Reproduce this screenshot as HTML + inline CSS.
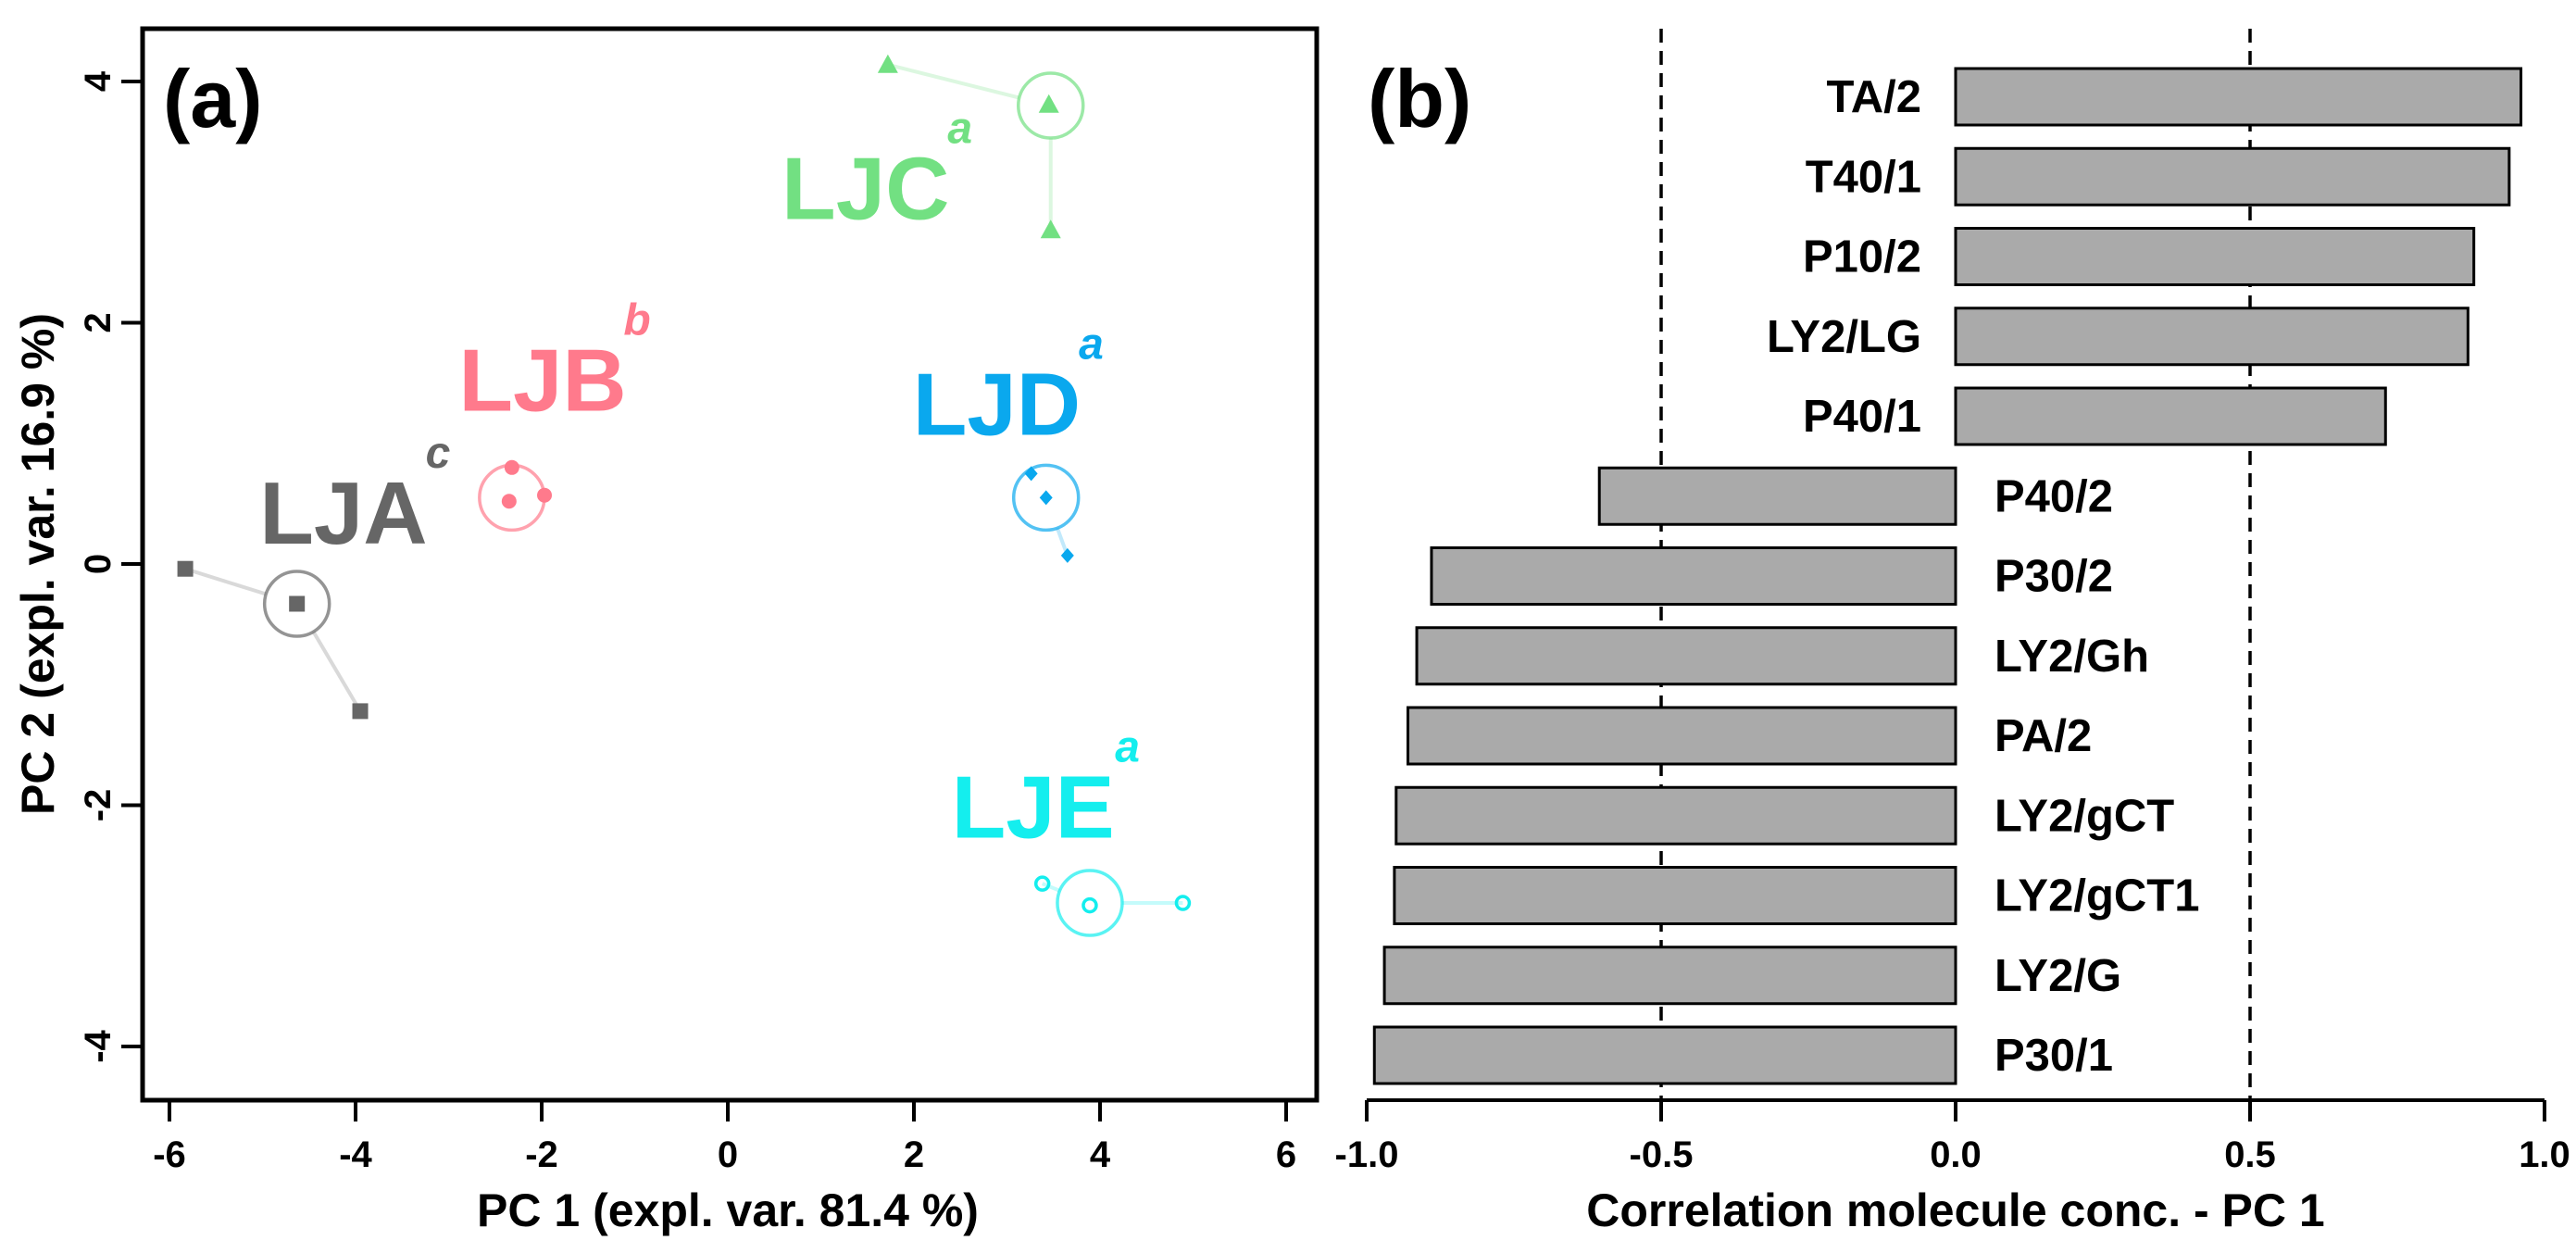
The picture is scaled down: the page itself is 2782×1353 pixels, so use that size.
<!DOCTYPE html>
<html><head><meta charset="utf-8"><style>
html,body{margin:0;padding:0;background:#fff}
svg{display:block;font-family:"Liberation Sans",Arial,sans-serif;font-weight:bold}
</style></head><body>
<svg id="fig" width="2782" height="1353" viewBox="0 0 2782 1353" xmlns="http://www.w3.org/2000/svg">
<g id="pa"></g>
<g id="pb"></g>
</svg>
<script>
// ---- Panel (a) data ----
const groups = ['LJA','LJB','LJC','LJD','LJE'];
const groupColors = ['#666666','#ff7a8c','#72e082','#0aa8ee','#14eeee'];
const groupSuper = ['c','b','a','a','a'];
const centX = [-4.63,-2.32,3.47,3.42,3.89];
const centY = [-0.33,0.55,3.80,0.55,-2.81];
const ptsX = [[-5.83,-3.95],[-2.32,-2.35,-1.97],[1.72,3.45,3.47],[3.26,3.42,3.65],[3.38,3.89,4.89]];
const ptsY = [[-0.04,-1.22],[0.80,0.52,0.57],[4.14,3.81,2.77],[0.75,0.55,0.07],[-2.65,-2.83,-2.81]];
const labelX = [-4.13,-1.99,1.48,2.89,3.28];
const labelY = [0.17,1.27,2.86,1.07,-2.27];
const xTicksA = [-6,-4,-2,0,2,4,6];
const yTicksA = [-4,-2,0,2,4];
// ---- Panel (b) data ----
const molecules = ['TA/2','T40/1','P10/2','LY2/LG','P40/1','P40/2','P30/2','LY2/Gh','PA/2','LY2/gCT','LY2/gCT1','LY2/G','P30/1'];
const corrValues = [0.96,0.94,0.88,0.87,0.73,-0.605,-0.89,-0.915,-0.93,-0.95,-0.953,-0.97,-0.987];
const xTicksB = [-1.0,-0.5,0.0,0.5,1.0];
const refLines = [-0.5,0.5];

const NS='http://www.w3.org/2000/svg';
function mk(parent,tag,attrs,text){const e=document.createElementNS(NS,tag);for(const k in attrs)e.setAttribute(k,attrs[k]);if(text!==undefined)e.textContent=text;parent.appendChild(e);return e;}

const ax=v=>786+v*100.5, ay=v=>609-v*130.25;
const pa=document.getElementById('pa');
let e;
e=mk(pa,'rect',{x:154,y:31,width:1268,height:1157,fill:'none',stroke:'#000','stroke-width':5});


xTicksA.forEach(t=>{
  e=mk(pa,'line',{x1:ax(t),x2:ax(t),y1:1188,y2:1211,stroke:'#000','stroke-width':4});
  
  
  e=mk(pa,'text',{x:ax(t),y:1260,'font-size':40,'text-anchor':'middle'},String(t));
  
  
});
yTicksA.forEach(t=>{
  e=mk(pa,'line',{x1:131,x2:154,y1:ay(t),y2:ay(t),stroke:'#000','stroke-width':4});
  
  
  e=mk(pa,'text',{x:0,y:0,'font-size':40,'text-anchor':'middle',transform:`translate(119,${ay(t)}) rotate(-90)`},String(t));
  
  
});
e=mk(pa,'text',{x:786,y:1324,'font-size':50,'text-anchor':'middle'},'PC 1 (expl. var. 81.4 %)');


e=mk(pa,'text',{x:0,y:0,'font-size':50,'text-anchor':'middle',transform:'translate(58,609) rotate(-90)'},'PC 2 (expl. var. 16.9 %)');


e=mk(pa,'text',{x:176,y:137,'font-size':88},'(a)');



const R=35;
groups.forEach((g,i)=>{
  const col=groupColors[i], cx=ax(centX[i]), cy=ay(centY[i]);
  const grp=mk(pa,'g',{});
  
  
  ptsX[i].forEach((px,j)=>{
    const x=ax(px), y=ay(ptsY[i][j]);
    const d=Math.hypot(x-cx,y-cy);
    if(d>R){
      const sx=cx+(x-cx)*R/d, sy=cy+(y-cy)*R/d;
      e=mk(grp,'line',{x1:sx,y1:sy,x2:x,y2:y,stroke:col,'stroke-opacity':0.25,'stroke-width':4});
      
      
    }
  });
  e=mk(grp,'circle',{cx:cx,cy:cy,r:R,fill:'none',stroke:col,'stroke-opacity':0.7,'stroke-width':3.5});
  
  
  const pts=ptsX[i].map((px,j)=>[ax(px),ay(ptsY[i][j])]);
  if(i===0) pts.push([cx,cy]);
  pts.forEach(([x,y])=>{
    if(i===0) e=mk(grp,'rect',{x:x-8.5,y:y-8.5,width:17,height:17,fill:col});
    else if(i===1) e=mk(grp,'circle',{cx:x,cy:y,r:8,fill:col});
    else if(i===2) e=mk(grp,'polygon',{points:`${x},${y-11} ${x-11},${y+9} ${x+11},${y+9}`,fill:col});
    else if(i===3) e=mk(grp,'polygon',{points:`${x},${y-8} ${x+7},${y} ${x},${y+8} ${x-7},${y}`,fill:col});
    else e=mk(grp,'circle',{cx:x,cy:y,r:7,fill:'none',stroke:col,'stroke-width':3.5});
    
    
  });
  const lx=ax(labelX[i]), ly=ay(labelY[i]);
  e=mk(grp,'text',{x:lx,y:ly,'font-size':96,'text-anchor':'middle',fill:col},g);
  
  
  e=mk(grp,'text',{x:lx+102,y:ly-82,'font-size':48,'font-style':'italic','text-anchor':'middle',fill:col},groupSuper[i]);
  
  
});

// panel b
const bx=v=>2112+v*636;
const by=i=>104+i*86.25;
const pb=document.getElementById('pb');
refLines.forEach(v=>{
  e=mk(pb,'line',{x1:bx(v),x2:bx(v),y1:31,y2:1188,stroke:'#000','stroke-width':3.5,'stroke-dasharray':'15,9'});
  
  
});
molecules.forEach((m,i)=>{
  const v=corrValues[i], y=by(i);
  const x0=Math.min(bx(0),bx(v)), w=Math.abs(bx(v)-bx(0));
  e=mk(pb,'rect',{x:x0,y:y-30,width:w,height:61,fill:'#aaaaaa',stroke:'#000','stroke-width':3});
  
  
  e=mk(pb,'text',{x:v>=0?bx(0)-37:bx(0)+42,y:y+17,'font-size':49,'text-anchor':v>=0?'end':'start'},m);
  
  
});
e=mk(pb,'line',{x1:bx(-1),x2:bx(1),y1:1188,y2:1188,stroke:'#000','stroke-width':4});


xTicksB.forEach(t=>{
  e=mk(pb,'line',{x1:bx(t),x2:bx(t),y1:1188,y2:1211,stroke:'#000','stroke-width':4});
  
  
  e=mk(pb,'text',{x:bx(t),y:1260,'font-size':40,'text-anchor':'middle'},t.toFixed(1));
  
  
});
e=mk(pb,'text',{x:2112,y:1324,'font-size':50,'text-anchor':'middle'},'Correlation molecule conc. - PC 1');


e=mk(pb,'text',{x:1477,y:137,'font-size':88},'(b)');


</script>
</body></html>
